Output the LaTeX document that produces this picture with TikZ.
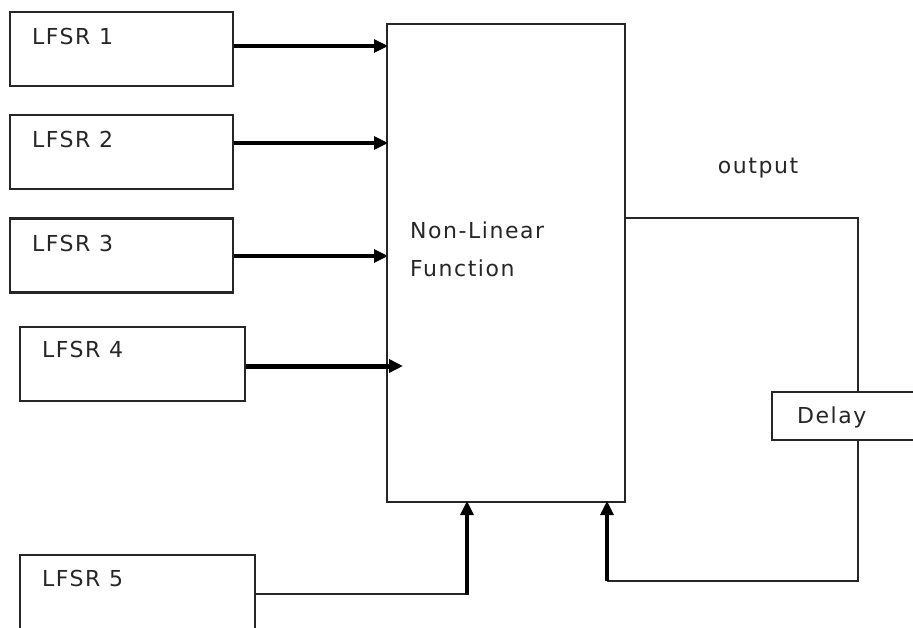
\documentclass[tikz,border=0pt]{standalone}
\usepackage{fontspec}
\setmainfont{DejaVu Sans}[LetterSpace=7]
\usetikzlibrary{positioning, arrows.meta}

\begin{document}
\begin{tikzpicture}[
    x=1pt, y=-1pt,
    box/.style={rectangle, draw=black!85, line width=2.2pt, inner sep=0pt},
    reg/.style={box, minimum width=223pt, minimum height=74pt},
    lbl/.style={font=\fontsize{22}{38}\selectfont, text=black!85, inner sep=0pt, anchor=west},
    wire/.style={draw=black!85, line width=2.2pt},
    arrow/.style={-{Triangle[length=14pt, width=13pt]}, draw=black, line width=3.2pt},
    bold arrow/.style={arrow, line width=5pt},
]
    \useasboundingbox (0,0) rectangle (913,628);

    % Boxes
    \node[reg] (l1) at (121.5, 49) {};
    \node[reg] (l2) at (121.5, 152) {};
    \node[reg] (l3) at (121.5, 255.5) {};
    \node[reg, minimum width=225pt] (l4) at (132.5, 364) {};
    \node[reg, minimum width=235pt] (l5) at (137.5, 592) {};
    \node[box, minimum width=238pt, minimum height=478pt] (nlf) at (506, 263) {};
    \node[box, minimum width=146pt, minimum height=48pt] (delay) at (845, 416) {};

    % Labels
    \node[lbl] (t1) at ([shift={(23,26)}]l1.north west) {LFSR 1};
    \node[lbl] (t2) at ([shift={(23,26)}]l2.north west) {LFSR 2};
    \node[lbl] (t3) at ([shift={(23,26)}]l3.north west) {LFSR 3};
    \node[lbl] (t4) at ([shift={(23,24)}]l4.north west) {LFSR 4};
    \node[lbl] (t5) at ([shift={(23,25)}]l5.north west) {LFSR 5};
    \node[lbl, align=left] (tf) at (410, 249) {Non-Linear\\Function};
    \node[lbl] (td) at (797, 417) {Delay};
    \node[lbl, anchor=center] (tout) at (758, 168) {output};

    % Connection points
    \coordinate (in1) at (388, 46);
    \coordinate (in2) at (388, 143);
    \coordinate (in3) at (388, 256);
    \coordinate (in4) at (403, 366);
    \coordinate (in5) at (467, 501);
    \coordinate (fb) at (607, 501);
    \coordinate (out) at (858, 218);
    \coordinate (loop) at (858, 581);

    % Arrows
    \draw[arrow] (in1 -| l1.east) -- (in1);
    \draw[arrow] (in2 -| l2.east) -- (in2);
    \draw[arrow] (in3 -| l3.east) -- (in3);
    \draw[bold arrow] (in4 -| l4.east) -- (in4);
    \draw[wire] (l5.east |- 0,594) -- (in5 |- 0,594);
    \draw[arrow] (in5 |- 0,595) -- (in5);

    % Feedback through delay
    \draw[wire] (out -| nlf.east) -- (out) -- (out |- delay.north);
    \draw[wire] (out |- delay.south) -- (loop) -- (loop -| fb);
    \draw[arrow] (loop -| fb) -- (fb);
\end{tikzpicture}
\end{document}
